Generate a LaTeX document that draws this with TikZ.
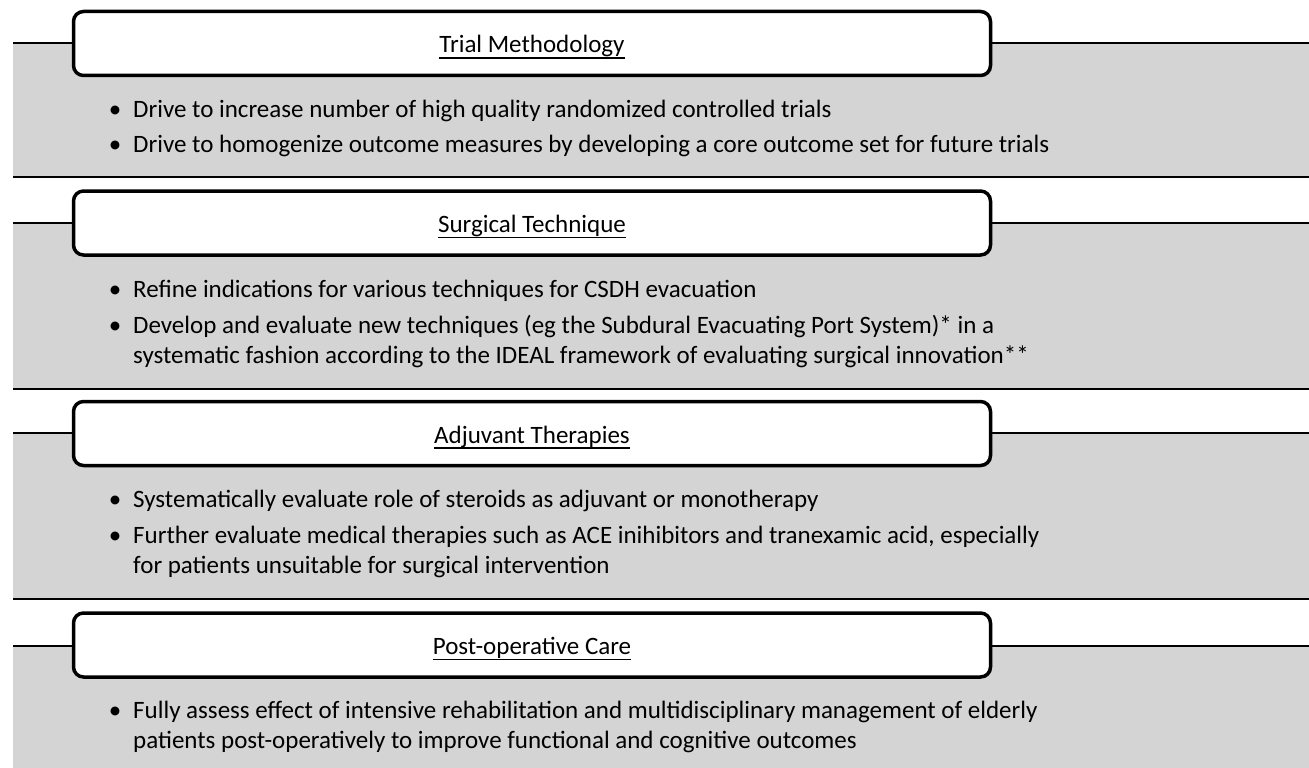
\documentclass[tikz,border=0pt]{standalone}
\usepackage{fontspec}
\setmainfont{Carlito}
\usetikzlibrary{shadows}
\definecolor{band}{RGB}{212,212,212}
\tikzset{
    headbox/.style={draw, line width=3.5pt, rounded corners=10pt, fill=white,
        minimum width=917pt, minimum height=64pt, inner sep=0pt,
        drop shadow={shadow xshift=1.5pt, shadow yshift=-1.5pt, opacity=0.35}},
    headline/.style={line width=2.5pt},
    headtitle/.style={anchor=base, inner sep=0pt},
    underline/.style={line width=1.8pt},
    itemtext/.style={anchor=base west, align=left, inner sep=0pt},
    itemdot/.style={anchor=base, inner sep=0pt}
}

\begin{document}
\begin{tikzpicture}[x=1pt, y=-1pt, font=\fontsize{25}{30}\selectfont]
        \useasboundingbox (0,0) rectangle (1309,768);

        % grey bands
        \fill[band] (13,43) rectangle (1309,177);
        \fill[band] (13,223) rectangle (1309,389);
        \fill[band] (13,433) rectangle (1309,599);
        \fill[band] (13,646) rectangle (1309,768);

        % rules
        \draw[headline] (13,43) -- (1309,43);
        \draw[headline] (13,177) -- (1309,177);
        \draw[headline] (13,223) -- (1309,223);
        \draw[headline] (13,389) -- (1309,389);
        \draw[headline] (13,433) -- (1309,433);
        \draw[headline] (13,599) -- (1309,599);
        \draw[headline] (13,646) -- (1309,646);

        % headings
        \node[headbox] (trial) at (532,43.5) {};
        \node[headtitle] (trialtitle) at (532,53) {Trial Methodology};
        \draw[underline] ([yshift=-5pt]trialtitle.base west) -- ([yshift=-5pt]trialtitle.base east);
        \node[headbox] (surgical) at (532,223) {};
        \node[headtitle] (surgicaltitle) at (532,232.5) {Surgical Technique};
        \draw[underline] ([yshift=-5pt]surgicaltitle.base west) -- ([yshift=-5pt]surgicaltitle.base east);
        \node[headbox] (adjuvant) at (532,433.5) {};
        \node[headtitle] (adjuvanttitle) at (532,443) {Adjuvant Therapies};
        \draw[underline] ([yshift=-5pt]adjuvanttitle.base west) -- ([yshift=-5pt]adjuvanttitle.base east);
        \node[headbox] (postop) at (532,645) {};
        \node[headtitle] (postoptitle) at (532,654.5) {Post-operative Care};
        \draw[underline] ([yshift=-5pt]postoptitle.base west) -- ([yshift=-5pt]postoptitle.base east);

        % trial methodology
        \node[itemdot] (d1) at (115,117) {•};
        \node[itemtext] (t1) at (133,117) {Drive to increase number of high quality randomized controlled trials};
        \node[itemdot] (d2) at (115,152) {•};
        \node[itemtext] (t2) at (133,152) {Drive to homogenize outcome measures by developing a core outcome set for future trials};

        % surgical technique (two-line items sit on their last baseline)
        \node[itemdot] (d3) at (115,297) {•};
        \node[itemtext] (t3) at (133,297) {Refine indications for various techniques for CSDH evacuation};
        \node[itemdot] (d4) at (115,333) {•};
        \node[itemtext] (t4) at (133,363) {Develop and evaluate new techniques (eg the Subdural Evacuating Port System)* in a\\
            systematic fashion according to the IDEAL framework of evaluating surgical innovation**};

        % adjuvant therapies
        \node[itemdot] (d5) at (115,507) {•};
        \node[itemtext] (t5) at (133,507) {Systematically evaluate role of steroids as adjuvant or monotherapy};
        \node[itemdot] (d6) at (115,543) {•};
        \node[itemtext] (t6) at (133,573) {Further evaluate medical therapies such as ACE inihibitors and tranexamic acid, especially\\
            for patients unsuitable for surgical intervention};

        % post-operative care
        \node[itemdot] (d7) at (115,718) {•};
        \node[itemtext] (t7) at (133,748) {Fully assess effect of intensive rehabilitation and multidisciplinary management of elderly\\
            patients post-operatively to improve functional and cognitive outcomes};
    \end{tikzpicture}
\end{document}
